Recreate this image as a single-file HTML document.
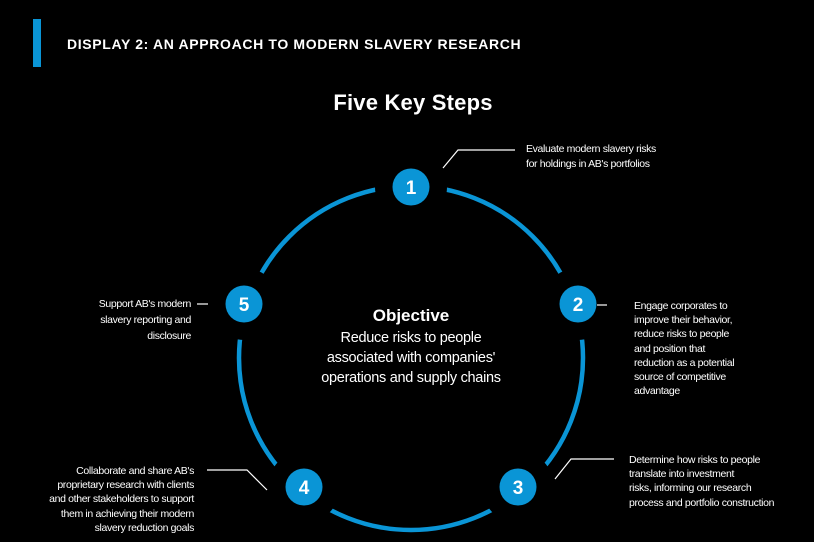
<!DOCTYPE html>
<html><head><meta charset="utf-8"><style>
body{margin:0;background:#000;width:814px;height:542px;overflow:hidden}
svg{display:block}
.t{font-family:"Liberation Sans",sans-serif;fill:#fff;font-size:10.5px;letter-spacing:-0.35px}
</style></head><body>
<svg width="814" height="542" viewBox="0 0 814 542">
<rect x="33" y="19" width="8" height="48" fill="#0a95d6"/>
<text x="67" y="49" font-family="Liberation Sans,sans-serif" font-weight="bold" font-size="14" fill="#fff" letter-spacing="0.65">DISPLAY 2: AN APPROACH TO MODERN SLAVERY RESEARCH</text>
<text x="413" y="110" text-anchor="middle" font-family="Liberation Sans,sans-serif" font-weight="bold" font-size="22" fill="#fff" letter-spacing="0.2">Five Key Steps</text>
<circle cx="411" cy="358" r="172" fill="none" stroke="#0a95d6" stroke-width="4.5"/>
<g fill="#000">
<circle cx="411" cy="187" r="36"/><circle cx="578" cy="304" r="36"/><circle cx="518" cy="487" r="36"/><circle cx="304" cy="487" r="36"/><circle cx="244" cy="304" r="36"/>
</g>
<g fill="#0a95d6">
<circle cx="411" cy="187" r="18.5"/><circle cx="578" cy="304" r="18.5"/><circle cx="518" cy="487" r="18.5"/><circle cx="304" cy="487" r="18.5"/><circle cx="244" cy="304" r="18.5"/>
</g>
<g font-family="Liberation Sans,sans-serif" font-weight="bold" font-size="19" fill="#fff" text-anchor="middle">
<text x="411" y="194">1</text><text x="578" y="311">2</text><text x="518" y="494">3</text><text x="304" y="494">4</text><text x="244" y="311">5</text>
</g>
<g stroke="#fff" stroke-width="1.2" fill="none">
<polyline points="443,168 458,150 515,150"/>
<line x1="597" y1="305" x2="607" y2="305"/>
<polyline points="555,479 571,459 614,459"/>
<polyline points="207,470 247,470 267,490"/>
<line x1="197" y1="304" x2="208" y2="304"/>
</g>
<text x="411" y="321" text-anchor="middle" font-family="Liberation Sans,sans-serif" font-weight="bold" font-size="17" fill="#fff">Objective</text>
<g font-family="Liberation Sans,sans-serif" font-size="14.5" fill="#fff" text-anchor="middle" letter-spacing="-0.3">
<text x="411" y="342">Reduce risks to people</text>
<text x="411" y="362">associated with companies'</text>
<text x="411" y="382">operations and supply chains</text>
</g>
<g class="t">
<text x="526" y="152">Evaluate modern slavery risks</text>
<text x="526" y="167">for holdings in AB's portfolios</text>
<text x="634" y="309">Engage corporates to</text>
<text x="634" y="323">improve their behavior,</text>
<text x="634" y="337">reduce risks to people</text>
<text x="634" y="352">and position that</text>
<text x="634" y="366">reduction as a potential</text>
<text x="634" y="380">source of competitive</text>
<text x="634" y="394">advantage</text>
<text x="629" y="463">Determine how risks to people</text>
<text x="629" y="477">translate into investment</text>
<text x="629" y="491">risks, informing our research</text>
<text x="629" y="506">process and portfolio construction</text>
</g>
<g class="t" text-anchor="end">
<text x="191" y="307">Support AB's modern</text>
<text x="191" y="323">slavery reporting and</text>
<text x="191" y="339">disclosure</text>
<text x="194" y="474">Collaborate and share AB's</text>
<text x="194" y="488">proprietary research with clients</text>
<text x="194" y="502">and other stakeholders to support</text>
<text x="194" y="517">them in achieving their modern</text>
<text x="194" y="531">slavery reduction goals</text>
</g>
</svg>
</body></html>
